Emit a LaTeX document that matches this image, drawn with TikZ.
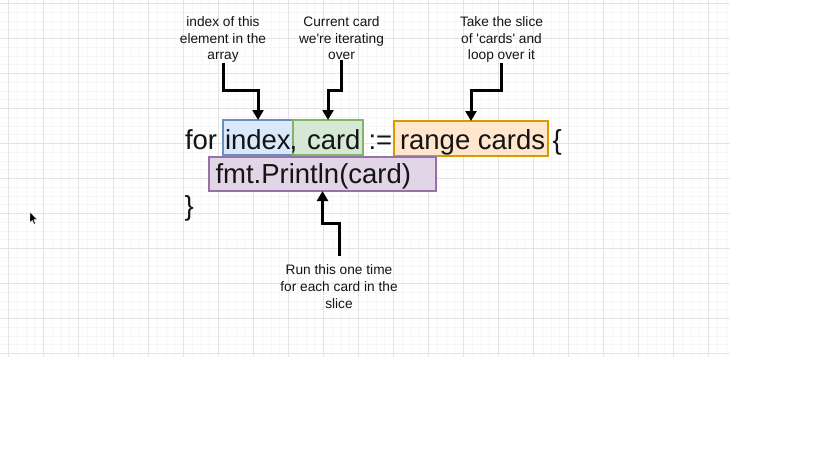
\documentclass[tikz,border=0pt]{standalone}
\usepackage{fontspec}
\setmainfont{Liberation Sans}
\usetikzlibrary{arrows.meta}
\definecolor{gmaj}{RGB}{228,228,228}
\definecolor{gmin}{RGB}{246,246,246}
\definecolor{bfill}{HTML}{DAE8FC}\definecolor{bdraw}{HTML}{6C8EBF}
\definecolor{gfill}{HTML}{D5E8D4}\definecolor{gdraw}{HTML}{82B366}
\definecolor{ofill}{HTML}{FFE6CC}\definecolor{odraw}{HTML}{D79B00}
\definecolor{pfill}{HTML}{E1D5E7}\definecolor{pdraw}{HTML}{9673A6}
\begin{document}
\begin{tikzpicture}[x=1pt,y=-1pt,
  box/.style={draw, line width=1.3pt, inner sep=0pt, outer sep=0pt, anchor=north west},
  code/.style={inner sep=0pt, outer sep=0pt, anchor=base west, text=black!92, font=\fontsize{27.5}{32}\selectfont},
  lbl/.style={inner sep=0pt, outer sep=0pt, anchor=north, align=center, text=black!92, font=\fontsize{13.7}{16.6}\selectfont},
  arr/.style={line width=3pt, -{Triangle[length=10pt,width=11pt]}}]
\useasboundingbox (0,0) rectangle (819,460);
\fill[white] (0,0) rectangle (819,460);
% grid
\begin{scope}
\clip (0,0) rectangle (730,357);
\foreach \i in {0,...,84} {\draw[gmin, line width=0.6pt] ({-0.45+8.75*\i},0) -- ({-0.45+8.75*\i},357);}
\foreach \i in {0,...,40} {\draw[gmin, line width=0.6pt] (0,{3.5+8.75*\i}) -- (730,{3.5+8.75*\i});}
\foreach \i in {0,...,20} {\draw[gmaj, line width=1pt] ({8.3+35*\i},0) -- ({8.3+35*\i},357);}
\foreach \i in {0,...,10} {\draw[gmaj, line width=1pt] (0,{3.5+35*\i}) -- (730,{3.5+35*\i});}
\end{scope}
% boxes
\node[box, fill=bfill, draw=bdraw, minimum width=70pt, minimum height=35pt] (bi) at (223,120) {};
\node[box, fill=gfill, draw=gdraw, minimum width=70pt, minimum height=35pt] (bc) at (293,120) {};
\node[box, fill=ofill, draw=odraw, minimum width=154pt, minimum height=35pt] (br) at (394,121) {};
\node[box, fill=pfill, draw=pdraw, minimum width=227pt, minimum height=34pt] (bp) at (209,157) {};
% code text
\node[code] (tfor) at (185,149.5) {for};
\node[code] (tindex) at (225,149.5) {index};
\node[code] (tcomma) at (289.5,149.5) {,};
\node[code] (tcard) at (307,149.5) {card};
\node[code] (tassign) at (368.5,149.5) {:=};
\node[code] (trange) at (400,149.5) {range cards};
\node[code] (tobr) at (552.5,149.5) {\{};
\node[code] (tprint) at (215.5,183) {fmt.Println(card)};
\node[code] (tcbr) at (184.5,215) {\}};
% labels
\node[lbl] (l1) at (223,16.7) {index of this\\element in the\\array};
\node[lbl] (l2) at (341.5,16.7) {Current card\\we\textquotesingle re iterating\\over};
\node[lbl] (l3) at (501.5,16.7) {Take the slice\\of \textquotesingle cards\textquotesingle\ and\\loop over it};
\node[lbl] (l4) at (339,265) {Run this one time\\for each card in the\\slice};
% connectors
\draw[arr] (l1.south) -- (l1.south |- 0,90) -| (bi.north);
\draw[arr] (l2.south) -- (l2.south |- 0,90) -| (bc.north);
\draw[arr] (l3.south) -- (l3.south |- 0,90) -| (br.north);
\coordinate (l4top) at ([yshift=9pt]l4.north);
\draw[arr] (l4top) -- (l4top |- 0,223) -| (bp.south);
% mouse cursor
\filldraw[fill=black, draw=white, line width=0.4pt] (30,212) -- (30,222.5) -- (32.3,220.3) -- (34,224.2) -- (35.5,223.5) -- (33.8,219.7) -- (37,219.5) -- cycle;
\end{tikzpicture}
\end{document}
